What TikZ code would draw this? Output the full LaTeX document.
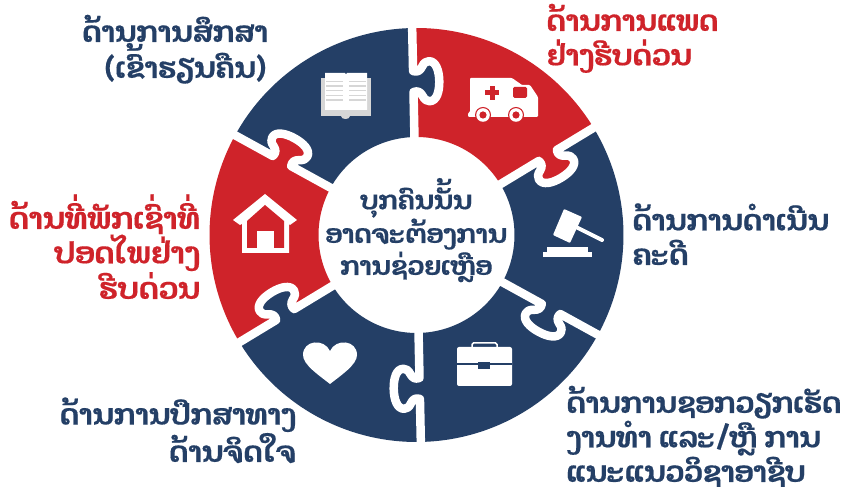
\documentclass[tikz,border=0pt]{standalone}
\usepackage{fontspec}
\newfontfamily\lao[Script=Lao]{Dhyana}
\definecolor{navy}{RGB}{36,63,102}
\definecolor{pred}{RGB}{207,35,42}
\definecolor{bookgray}{RGB}{214,214,214}
\tikzset{
  lbl/.style={font=\lao\bfseries\addfontfeature{FakeBold=0.5}\fontsize{29}{34.5}\selectfont,inner sep=0pt,text=navy},
  lblr/.style={lbl,text=pred},
  cutline/.style={draw=white,line width=8.5pt},
}
\newcommand{\piece}[3]{% start angle, end angle, colour
  \fill[#3] (#1:207) arc[start angle=#1,end angle=#2,radius=207] -- (#2:98) arc[start angle=#2,end angle=#1,radius=98] -- cycle;}
\newcommand{\tabcut}[2]{% angle, owner colour
  \begin{scope}[rotate=#1]
    \fill[#2] (143,1) .. controls (144.5,-4) and (143,-7) .. (139,-9) .. controls (135,-11) and (133.5,-13) .. (133.5,-16) .. controls (133.5,-23) and (143,-26) .. (153.5,-26) .. controls (164,-26) and (173.5,-23) .. (173.5,-16) .. controls (173.5,-13) and (172,-11) .. (168,-9) .. controls (164,-7) and (162.5,-4) .. (164,1) -- cycle;
    \draw[cutline,line join=round] (90,0) -- (143,0) .. controls (144.5,-4) and (143,-7) .. (139,-9) .. controls (135,-11) and (133.5,-13) .. (133.5,-16) .. controls (133.5,-23) and (143,-26) .. (153.5,-26) .. controls (164,-26) and (173.5,-23) .. (173.5,-16) .. controls (173.5,-13) and (172,-11) .. (168,-9) .. controls (164,-7) and (162.5,-4) .. (164,0) -- (216,0);
  \end{scope}}
\begin{document}
\begin{tikzpicture}[x=1pt,y=1pt]
\useasboundingbox (0,0) rectangle (847,487);
\fill[white] (0,0) rectangle (847,487);
\begin{scope}[shift={(416.5,252)}]
  \piece{91.2}{151.2}{navy}
  \piece{31.2}{91.2}{pred}
  \piece{-28.8}{31.2}{navy}
  \piece{-88.8}{-28.8}{navy}
  \piece{-148.8}{-88.8}{navy}
  \piece{151.2}{211.2}{pred}
  \tabcut{91.2}{navy}
  \tabcut{31.2}{pred}
  \tabcut{-28.8}{navy}
  \tabcut{-88.8}{navy}
  \tabcut{-148.8}{navy}
  \tabcut{151.2}{pred}
\end{scope}
% book (y measured from top)
\begin{scope}[yscale=-1,yshift=-487pt]
  \fill[bookgray] (321,78) rectangle (371,116);
  \fill[bookgray] (341,116) -- (350,116) .. controls (350,120) and (341,120) .. (341,116);
  \fill[white] (325,73) -- (345,73) -- (346,74.5) -- (347,73) -- (367,73) -- (367,110) -- (325,110) -- cycle;
  \foreach \yy in {81.5,86,90.7,95.5,100}{
    \fill[bookgray] (326,\yy-0.8) rectangle (343,\yy+0.8);
    \fill[bookgray] (349,\yy-0.8) rectangle (366,\yy+0.8);}
  % ambulance
  \fill[white,rounded corners=1pt] (470,78) -- (512,78) -- (522,85) -- (530,85) -- (538,97) -- (538,117) -- (468,117) -- (468,113) -- (470,112) -- cycle;
  \fill[pred] (489.5,86) rectangle (494.5,100);
  \fill[pred] (485,90.5) rectangle (499,95.5);
  \fill[pred,rounded corners=1.5pt] (513,87) rectangle (527,98);
  \fill[pred] (483,115) circle (8);
  \fill[white] (483,115) circle (6.8);
  \fill[pred] (483,115) circle (3.6);
  \fill[pred] (516,115) circle (8);
  \fill[white] (516,115) circle (6.8);
  \fill[pred] (516,115) circle (3.6);
  % gavel
  \fill[white] (543,252) rectangle (592,257);
  \fill[white] (547,247) rectangle (588,252);
  \fill[white,rounded corners=0.8pt] (564,209) -- (582,217) -- (570,243) -- (553,235) -- cycle;
  \draw[white,line width=4pt,line cap=round] (576,227) -- (602,240);
  % heart
  \fill[white] (330,384) .. controls (320,376) and (303,365) .. (303,355) .. controls (303,340) and (324,338) .. (330,351) .. controls (336,338) and (357,340) .. (357,355) .. controls (357,365) and (340,376) .. (330,384) -- cycle;
  % briefcase
  \fill[white,rounded corners=2pt] (457,347) rectangle (512,386);
  \draw[white,line width=1.5pt,rounded corners=1.5pt] (472,347) -- (472,343) -- (497,343) -- (497,347);
  \fill[navy] (457,363.5) rectangle (512,365);
  \fill[navy] (478,362) rectangle (490,369);
  % house
  \fill[white] (265,194) -- (297,220) -- (290,225) -- (289,224) -- (289,253) -- (242,253) -- (242,224) -- (240,225) -- (233,220) -- cycle;
  \fill[pred] (265,205) -- (284,221) -- (284,248) -- (247,248) -- (247,221) -- cycle;
  \fill[white] (257,231) rectangle (274,253);
\end{scope}
% labels
\node[lbl,anchor=base east,align=right] (edu) at (268,409) {ດ້ານການສຶກສາ\\(ເຂົ້າຮຽນຄືນ)};
\node[lblr,anchor=base west,align=left] (med) at (546,421.5) {ດ້ານການແພດ\\ຢ່າງຮີບດ່ວນ};
\node[lbl,anchor=base west,align=left] (leg) at (632,222) {ດ້ານການດຳເນີນ\\ຄະດີ};
\node[lbl,anchor=base west,align=left] (job) at (566,5) {ດ້ານການຊອກວຽກເຮັດ\\ງານທຳ ແລະ/ຫຼື ການ\\ແນະແນວວິຊາອາຊີບ};
\node[lbl,anchor=base east,align=right] (psy) at (296,25) {ດ້ານການປຶກສາທາງ\\ດ້ານຈິດໃຈ};
\node[lblr,font=\lao\bfseries\addfontfeature{FakeBold=0.5}\fontsize{30}{34.5}\selectfont,anchor=base east,align=right] (hou) at (200,188) {ດ້ານທີ່ພັກເຊົ່າທີ່\\ປອດໄພຢ່າງ\\ຮີບດ່ວນ};
\node[lbl,font=\lao\bfseries\addfontfeature{FakeBold=0.5}\fontsize{26}{32}\selectfont,anchor=base,align=center] (ctr) at (416,212) {ບຸກຄົນນັ້ນ\\ອາດຈະຕ້ອງການ\\ການຊ່ວຍເຫຼືອ};
\end{tikzpicture}
\end{document}
